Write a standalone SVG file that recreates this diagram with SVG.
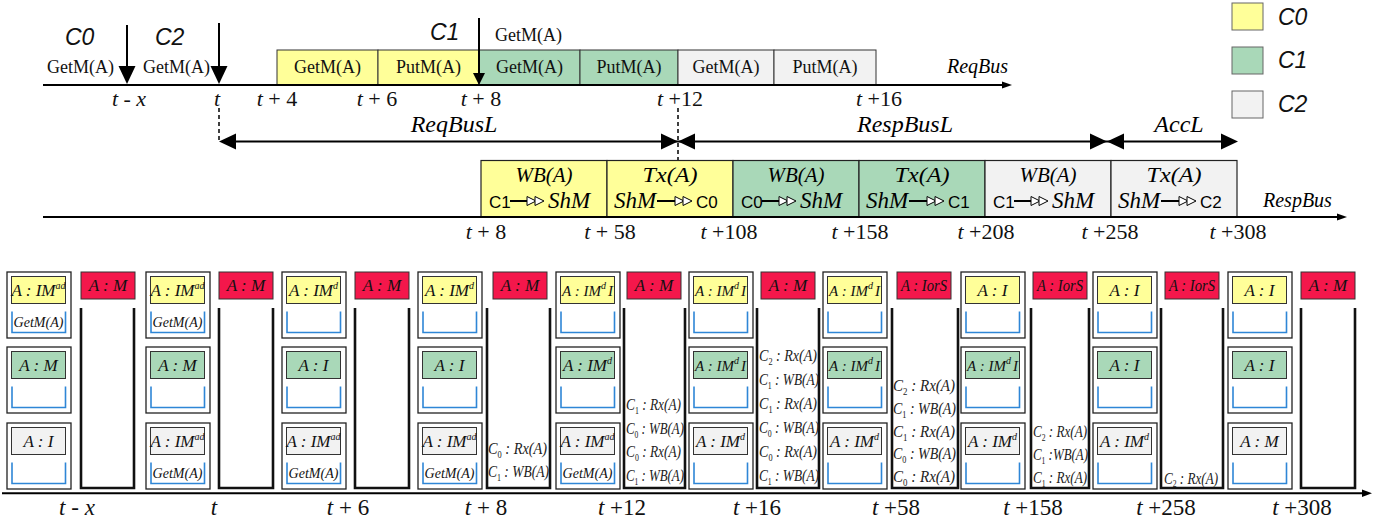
<svg xmlns="http://www.w3.org/2000/svg" width="1387" height="523" viewBox="0 0 1387 523">
<style>
.ser{font-family:"Liberation Serif","Times New Roman",serif}
.it{font-style:italic}
.sans{font-family:"Liberation Sans",Arial,sans-serif}
.y{fill:#FFFF99}.g{fill:#A9D8B8}.gr{fill:#F2F2F2}.r{fill:#F4174B}
.bx{stroke:#333;stroke-width:1}
.ob{fill:#fff;stroke:#222;stroke-width:1.3}
.q{fill:none;stroke:#2E86D6;stroke-width:1.6}
.mem{fill:none;stroke:#111;stroke-width:2.6}
.st{font-family:"Liberation Serif",serif;font-style:italic;font-size:17px;text-anchor:middle;fill:#111}
.sd{font-family:"Liberation Serif",serif;font-style:italic;font-size:15px;text-anchor:middle;fill:#111}
.sup{font-size:10px}
.qt{font-family:"Liberation Serif",serif;font-style:italic;font-size:14px;text-anchor:middle;fill:#111}
.mt{font-family:"Liberation Serif",serif;font-style:italic;font-size:17px;text-anchor:middle;fill:#111}
.lg{font-family:"Liberation Serif",serif;font-style:italic;font-size:17px;fill:#222}
.sb{font-style:normal;font-size:10px}
.tl{font-family:"Liberation Serif",serif;font-size:22px;text-anchor:middle;fill:#111}
.bl{font-family:"Liberation Serif",serif;font-size:23px;text-anchor:middle;fill:#111}
.gm{font-family:"Liberation Serif",serif;font-size:18px;fill:#111}
.cl{font-family:"Liberation Sans",Arial,sans-serif;font-style:italic;font-size:23px;fill:#111}
.ln{stroke:#000;stroke-width:2;fill:none}
.dash{stroke:#000;stroke-width:1.5;stroke-dasharray:4 3;fill:none}
.hd{fill:#000}
.tri{fill:#fff;stroke:#000;stroke-width:1}
.cx{font-family:"Liberation Sans",Arial,sans-serif;font-size:17px;fill:#000}
.shm{font-family:"Liberation Serif",serif;font-style:italic;font-size:23px;fill:#000}
.l1{font-family:"Liberation Serif",serif;font-style:italic;font-size:20px;text-anchor:middle;fill:#000}
.lab{font-family:"Liberation Serif",serif;font-style:italic;font-size:24px;text-anchor:middle;fill:#000}
</style>

<!-- Legend -->
<g id="legend">
<rect class="y" x="1232" y="3" width="31" height="27" stroke="#666"/>
<text class="cl" x="1278" y="25">C0</text>
<rect class="g" x="1232" y="47" width="31" height="27" stroke="#666"/>
<text class="cl" x="1278" y="68">C1</text>
<rect class="gr" x="1232" y="91" width="31" height="27" stroke="#666"/>
<text class="cl" x="1278" y="112">C2</text>
</g>

<!-- ReqBus -->
<g id="reqbus">
<rect class="y bx" x="277" y="50" width="101" height="35"/>
<rect class="y bx" x="378" y="50" width="101" height="35"/>
<rect class="g bx" x="479" y="50" width="101" height="35"/>
<rect class="g bx" x="580" y="50" width="98" height="35"/>
<rect class="gr bx" x="678" y="50" width="96" height="35"/>
<rect class="gr bx" x="774" y="50" width="102" height="35"/>
<text class="gm" x="327.5" y="73" text-anchor="middle">GetM(A)</text>
<text class="gm" x="428.5" y="73" text-anchor="middle">PutM(A)</text>
<text class="gm" x="529.5" y="73" text-anchor="middle">GetM(A)</text>
<text class="gm" x="629" y="73" text-anchor="middle">PutM(A)</text>
<text class="gm" x="726" y="73" text-anchor="middle">GetM(A)</text>
<text class="gm" x="825" y="73" text-anchor="middle">PutM(A)</text>
<text class="gm" x="47" y="73">GetM(A)</text>
<text class="gm" x="143" y="73">GetM(A)</text>
<text class="gm" x="495" y="41">GetM(A)</text>
<text class="cl" x="65" y="45">C0</text>
<text class="cl" x="155" y="45">C2</text>
<text class="cl" x="430" y="40">C1</text>
<text class="ser it" x="947" y="73" font-size="20">ReqBus</text>
<text class="tl" x="129" y="106" font-size="24"><tspan font-style="italic">t</tspan> - <tspan font-style="italic">x</tspan></text>
<text class="tl" x="217" y="106" font-size="24" font-style="italic">t</text>
<text class="tl" x="277" y="106"><tspan font-style="italic">t</tspan> + 4</text>
<text class="tl" x="377" y="106"><tspan font-style="italic">t</tspan> + 6</text>
<text class="tl" x="481" y="106"><tspan font-style="italic">t</tspan> + 8</text>
<text class="tl" x="680" y="106"><tspan font-style="italic">t</tspan> +12</text>
<text class="tl" x="879" y="106"><tspan font-style="italic">t</tspan> +16</text>
</g>

<!-- RespBus -->
<g id="respbus">
<rect class="y" x="481" y="160.5" width="126" height="56.5" stroke="#222" stroke-width="1.2"/>
<rect class="y" x="607" y="160.5" width="126" height="56.5" stroke="#222" stroke-width="1.2"/>
<rect class="g" x="733" y="160.5" width="126" height="56.5" stroke="#222" stroke-width="1.2"/>
<rect class="g" x="859" y="160.5" width="126" height="56.5" stroke="#222" stroke-width="1.2"/>
<rect class="gr" x="985" y="160.5" width="126" height="56.5" stroke="#222" stroke-width="1.2"/>
<rect class="gr" x="1111" y="160.5" width="126" height="56.5" stroke="#222" stroke-width="1.2"/>
<text class="l1" x="544" y="182" textLength="57" lengthAdjust="spacingAndGlyphs">WB(A)</text>
<text class="l1" x="670" y="182" textLength="55" lengthAdjust="spacingAndGlyphs">Tx(A)</text>
<text class="l1" x="796" y="182" textLength="57" lengthAdjust="spacingAndGlyphs">WB(A)</text>
<text class="l1" x="922" y="182" textLength="55" lengthAdjust="spacingAndGlyphs">Tx(A)</text>
<text class="l1" x="1048" y="182" textLength="57" lengthAdjust="spacingAndGlyphs">WB(A)</text>
<text class="l1" x="1174" y="182" textLength="55" lengthAdjust="spacingAndGlyphs">Tx(A)</text>
<!-- box1 C1 -> ShM -->
<text class="cx" x="489" y="208">C1</text>
<path class="ln" stroke-width="1.2" d="M510 201H527"/>
<polygon class="tri" points="527,196.5 536,201 527,205.5"/><polygon class="tri" points="535,196.5 544,201 535,205.5"/>
<text class="shm" x="548" y="208">ShM</text>
<!-- box2 ShM -> C0 -->
<text class="shm" x="614" y="208">ShM</text>
<path class="ln" stroke-width="1.2" d="M657 201H675"/>
<polygon class="tri" points="675,196.5 684,201 675,205.5"/><polygon class="tri" points="683,196.5 692,201 683,205.5"/>
<text class="cx" x="696" y="208">C0</text>
<!-- box3 C0 -> ShM -->
<text class="cx" x="741" y="208">C0</text>
<path class="ln" stroke-width="1.2" d="M762 201H779"/>
<polygon class="tri" points="779,196.5 788,201 779,205.5"/><polygon class="tri" points="787,196.5 796,201 787,205.5"/>
<text class="shm" x="800" y="208">ShM</text>
<!-- box4 ShM -> C1 -->
<text class="shm" x="866" y="208">ShM</text>
<path class="ln" stroke-width="1.2" d="M909 201H927"/>
<polygon class="tri" points="927,196.5 936,201 927,205.5"/><polygon class="tri" points="935,196.5 944,201 935,205.5"/>
<text class="cx" x="948" y="208">C1</text>
<!-- box5 C1 -> ShM -->
<text class="cx" x="993" y="208">C1</text>
<path class="ln" stroke-width="1.2" d="M1014 201H1031"/>
<polygon class="tri" points="1031,196.5 1040,201 1031,205.5"/><polygon class="tri" points="1039,196.5 1048,201 1039,205.5"/>
<text class="shm" x="1052" y="208">ShM</text>
<!-- box6 ShM -> C2 -->
<text class="shm" x="1118" y="208">ShM</text>
<path class="ln" stroke-width="1.2" d="M1161 201H1179"/>
<polygon class="tri" points="1179,196.5 1188,201 1179,205.5"/><polygon class="tri" points="1187,196.5 1196,201 1187,205.5"/>
<text class="cx" x="1200" y="208">C2</text>
<text class="ser it" x="1263" y="207" font-size="20">RespBus</text>
<text class="tl" x="486" y="239"><tspan font-style="italic">t</tspan> + 8</text>
<text class="tl" x="610" y="239"><tspan font-style="italic">t</tspan> + 58</text>
<text class="tl" x="729" y="239"><tspan font-style="italic">t</tspan> +108</text>
<text class="tl" x="860" y="239"><tspan font-style="italic">t</tspan> +158</text>
<text class="tl" x="986" y="239"><tspan font-style="italic">t</tspan> +208</text>
<text class="tl" x="1110" y="239"><tspan font-style="italic">t</tspan> +258</text>
<text class="tl" x="1238" y="239"><tspan font-style="italic">t</tspan> +308</text>
</g>

<!-- Connectors / axes / latency arrows -->
<g id="connectors">
<path class="ln" d="M43 85H1004"/>
<polygon class="hd" points="1002,81.5 1012,85 1002,88.5"/>
<path class="ln" d="M43 217H1339"/>
<polygon class="hd" points="1337,213.5 1347,217 1337,220.5"/>
<path class="ln" d="M2 493.3H1364"/>
<polygon class="hd" points="1362,489.5 1372,493.3 1362,497"/>
<path class="ln" d="M127 25V68"/>
<polygon class="hd" points="118.5,66 135.5,66 127,84"/>
<path class="ln" d="M219 23V68"/>
<polygon class="hd" points="210.5,66 227.5,66 219,84"/>
<path class="ln" d="M479 18V75"/>
<polygon class="hd" points="473,73 485,73 479,85"/>
<path class="dash" d="M219 108V141"/>
<path class="dash" d="M678 108V160"/>
<path class="ln" d="M230 141.5H1230"/>
<polygon class="hd" points="219,141.5 236,133.5 236,149.5"/>
<polygon class="hd" points="678,141.5 661,133.5 661,149.5"/>
<polygon class="hd" points="678,141.5 695,133.5 695,149.5"/>
<polygon class="hd" points="1107,141.5 1090,133.5 1090,149.5"/>
<polygon class="hd" points="1107,141.5 1124,133.5 1124,149.5"/>
<polygon class="hd" points="1238,141.5 1221,133.5 1221,149.5"/>
<text class="lab" x="454" y="132">ReqBusL</text>
<text class="lab" x="905" y="132">RespBusL</text>
<text class="lab" x="1179" y="132">AccL</text>
</g>

<!-- Column 1: t - x -->
<g id="col-t-x">
<rect class="ob" x="7" y="272" width="64" height="66"/>
<rect class="y bx" x="11.5" y="276.5" width="54" height="27"/>
<text class="st" x="38.5" y="295.5">A : IM<tspan class="sup" dy="-7">ad</tspan></text>
<path class="q" d="M12 311.5V332.5H65.5V311.5"/>
<text class="qt" x="38.5" y="327">GetM(A)</text>
<rect class="ob" x="7" y="347" width="64" height="66"/>
<rect class="g bx" x="11.5" y="351.5" width="54" height="27"/>
<text class="st" x="38.5" y="370.5">A : M</text>
<path class="q" d="M12 386.5V407.5H65.5V386.5"/>
<rect class="ob" x="7" y="423" width="64" height="66"/>
<rect class="gr bx" x="11.5" y="427.5" width="54" height="27"/>
<text class="st" x="38.5" y="446.5">A : I</text>
<path class="q" d="M12 462.5V483.5H65.5V462.5"/>
<rect class="r bx" x="81" y="272" width="54" height="27"/>
<text class="mt" x="108" y="291">A : M</text>
<path class="mem" d="M81 308V488H134V308"/>
<text class="bl" x="77" y="515" font-size="25"><tspan font-style="italic">t</tspan> - <tspan font-style="italic">x</tspan></text>
</g>

<!-- Column 2: t -->
<g id="col-t">
<rect class="ob" x="146" y="272" width="64" height="66"/>
<rect class="y bx" x="150.5" y="276.5" width="54" height="27"/>
<text class="st" x="177.5" y="295.5">A : IM<tspan class="sup" dy="-7">ad</tspan></text>
<path class="q" d="M151 311.5V332.5H204.5V311.5"/>
<text class="qt" x="177.5" y="327">GetM(A)</text>
<rect class="ob" x="146" y="347" width="64" height="66"/>
<rect class="g bx" x="150.5" y="351.5" width="54" height="27"/>
<text class="st" x="177.5" y="370.5">A : M</text>
<path class="q" d="M151 386.5V407.5H204.5V386.5"/>
<rect class="ob" x="146" y="423" width="64" height="66"/>
<rect class="gr bx" x="150.5" y="427.5" width="54" height="27"/>
<text class="st" x="177.5" y="446.5">A : IM<tspan class="sup" dy="-7">ad</tspan></text>
<path class="q" d="M151 462.5V483.5H204.5V462.5"/>
<text class="qt" x="177.5" y="478">GetM(A)</text>
<rect class="r bx" x="219" y="272" width="54" height="27"/>
<text class="mt" x="246" y="291">A : M</text>
<path class="mem" d="M219 308V488H273V308"/>
<text class="bl" x="214" y="515" font-size="25" font-style="italic">t</text>
</g>

<!-- Column 3: t + 6 -->
<g id="col-t6">
<rect class="ob" x="282" y="272" width="64" height="66"/>
<rect class="y bx" x="286.5" y="276.5" width="54" height="27"/>
<text class="st" x="313.5" y="295.5">A : IM<tspan class="sup" dy="-7">d</tspan></text>
<path class="q" d="M287 311.5V332.5H340.5V311.5"/>
<rect class="ob" x="282" y="347" width="64" height="66"/>
<rect class="g bx" x="286.5" y="351.5" width="54" height="27"/>
<text class="st" x="313.5" y="370.5">A : I</text>
<path class="q" d="M287 386.5V407.5H340.5V386.5"/>
<rect class="ob" x="282" y="423" width="64" height="66"/>
<rect class="gr bx" x="286.5" y="427.5" width="54" height="27"/>
<text class="st" x="313.5" y="446.5">A : IM<tspan class="sup" dy="-7">ad</tspan></text>
<path class="q" d="M287 462.5V483.5H340.5V462.5"/>
<text class="qt" x="313.5" y="478">GetM(A)</text>
<rect class="r bx" x="355" y="272" width="54" height="27"/>
<text class="mt" x="382" y="291">A : M</text>
<path class="mem" d="M355 308V488H409V308"/>
<text class="bl" x="348" y="515"><tspan font-style="italic">t</tspan> + 6</text>
</g>

<!-- Column 4: t + 8 -->
<g id="col-t8">
<rect class="ob" x="418" y="272" width="64" height="66"/>
<rect class="y bx" x="422.5" y="276.5" width="54" height="27"/>
<text class="st" x="449.5" y="295.5">A : IM<tspan class="sup" dy="-7">d</tspan></text>
<path class="q" d="M423 311.5V332.5H476.5V311.5"/>
<rect class="ob" x="418" y="347" width="64" height="66"/>
<rect class="g bx" x="422.5" y="351.5" width="54" height="27"/>
<text class="st" x="449.5" y="370.5">A : I</text>
<path class="q" d="M423 386.5V407.5H476.5V386.5"/>
<rect class="ob" x="418" y="423" width="64" height="66"/>
<rect class="gr bx" x="422.5" y="427.5" width="54" height="27"/>
<text class="st" x="449.5" y="446.5">A : IM<tspan class="sup" dy="-7">ad</tspan></text>
<path class="q" d="M423 462.5V483.5H476.5V462.5"/>
<text class="qt" x="449.5" y="478">GetM(A)</text>
<rect class="r bx" x="493" y="272" width="54" height="27"/>
<text class="mt" x="520" y="291">A : M</text>
<path class="mem" d="M487 308V488H550V308"/>
<text class="lg" x="488" y="454" textLength="59" lengthAdjust="spacingAndGlyphs">C<tspan class="sb" dy="4">0</tspan><tspan dy="-4"> : Rx(A)</tspan></text>
<text class="lg" x="488" y="477" textLength="61" lengthAdjust="spacingAndGlyphs">C<tspan class="sb" dy="4">1</tspan><tspan dy="-4"> : WB(A)</tspan></text>
<text class="bl" x="486" y="515"><tspan font-style="italic">t</tspan> + 8</text>
</g>

<!-- Column 5: t + 12 -->
<g id="col-t12">
<rect class="ob" x="556" y="272" width="64" height="66"/>
<rect class="y bx" x="560.5" y="276.5" width="54" height="27"/>
<text class="sd" x="587.5" y="295.5">A : IM<tspan class="sup" dy="-7">d</tspan><tspan dx="2" dy="7">I</tspan></text>
<path class="q" d="M561 311.5V332.5H614.5V311.5"/>
<rect class="ob" x="556" y="347" width="64" height="66"/>
<rect class="g bx" x="560.5" y="351.5" width="54" height="27"/>
<text class="st" x="587.5" y="370.5">A : IM<tspan class="sup" dy="-7">d</tspan></text>
<path class="q" d="M561 386.5V407.5H614.5V386.5"/>
<rect class="ob" x="556" y="423" width="64" height="66"/>
<rect class="gr bx" x="560.5" y="427.5" width="54" height="27"/>
<text class="st" x="587.5" y="446.5">A : IM<tspan class="sup" dy="-7">ad</tspan></text>
<path class="q" d="M561 462.5V483.5H614.5V462.5"/>
<text class="qt" x="587.5" y="478">GetM(A)</text>
<rect class="r bx" x="627" y="272" width="54" height="27"/>
<text class="mt" x="654" y="291">A : M</text>
<path class="mem" d="M624 308V488H685V308"/>
<text class="lg" x="626" y="409.5" textLength="55" lengthAdjust="spacingAndGlyphs">C<tspan class="sb" dy="4">1</tspan><tspan dy="-4"> : Rx(A)</tspan></text>
<text class="lg" x="626" y="434" textLength="58" lengthAdjust="spacingAndGlyphs">C<tspan class="sb" dy="4">0</tspan><tspan dy="-4"> : WB(A)</tspan></text>
<text class="lg" x="626" y="457" textLength="55" lengthAdjust="spacingAndGlyphs">C<tspan class="sb" dy="4">0</tspan><tspan dy="-4"> : Rx(A)</tspan></text>
<text class="lg" x="626" y="480.5" textLength="58" lengthAdjust="spacingAndGlyphs">C<tspan class="sb" dy="4">1</tspan><tspan dy="-4"> : WB(A)</tspan></text>
<text class="bl" x="622" y="515"><tspan font-style="italic">t</tspan> +12</text>
</g>

<!-- Column 6: t + 16 -->
<g id="col-t16">
<rect class="ob" x="689" y="272" width="64" height="66"/>
<rect class="y bx" x="693.5" y="276.5" width="54" height="27"/>
<text class="sd" x="720.5" y="295.5">A : IM<tspan class="sup" dy="-7">d</tspan><tspan dx="2" dy="7">I</tspan></text>
<path class="q" d="M694 311.5V332.5H747.5V311.5"/>
<rect class="ob" x="689" y="347" width="64" height="66"/>
<rect class="g bx" x="693.5" y="351.5" width="54" height="27"/>
<text class="sd" x="720.5" y="370.5">A : IM<tspan class="sup" dy="-7">d</tspan><tspan dx="2" dy="7">I</tspan></text>
<path class="q" d="M694 386.5V407.5H747.5V386.5"/>
<rect class="ob" x="689" y="423" width="64" height="66"/>
<rect class="gr bx" x="693.5" y="427.5" width="54" height="27"/>
<text class="st" x="720.5" y="446.5">A : IM<tspan class="sup" dy="-7">d</tspan></text>
<path class="q" d="M694 462.5V483.5H747.5V462.5"/>
<rect class="r bx" x="761" y="272" width="54" height="27"/>
<text class="mt" x="788" y="291">A : M</text>
<path class="mem" d="M757 308V488H819V308"/>
<text class="lg" x="759" y="360.5" textLength="58" lengthAdjust="spacingAndGlyphs">C<tspan class="sb" dy="4">2</tspan><tspan dy="-4"> : Rx(A)</tspan></text>
<text class="lg" x="759" y="384.5" textLength="60" lengthAdjust="spacingAndGlyphs">C<tspan class="sb" dy="4">1</tspan><tspan dy="-4"> : WB(A)</tspan></text>
<text class="lg" x="759" y="409" textLength="58" lengthAdjust="spacingAndGlyphs">C<tspan class="sb" dy="4">1</tspan><tspan dy="-4"> : Rx(A)</tspan></text>
<text class="lg" x="759" y="433" textLength="60" lengthAdjust="spacingAndGlyphs">C<tspan class="sb" dy="4">0</tspan><tspan dy="-4"> : WB(A)</tspan></text>
<text class="lg" x="759" y="457" textLength="58" lengthAdjust="spacingAndGlyphs">C<tspan class="sb" dy="4">0</tspan><tspan dy="-4"> : Rx(A)</tspan></text>
<text class="lg" x="759" y="480.5" textLength="60" lengthAdjust="spacingAndGlyphs">C<tspan class="sb" dy="4">1</tspan><tspan dy="-4"> : WB(A)</tspan></text>
<text class="bl" x="757" y="515"><tspan font-style="italic">t</tspan> +16</text>
</g>

<!-- Column 7: t + 58 -->
<g id="col-t58">
<rect class="ob" x="823" y="272" width="64" height="66"/>
<rect class="y bx" x="827.5" y="276.5" width="54" height="27"/>
<text class="sd" x="854.5" y="295.5">A : IM<tspan class="sup" dy="-7">d</tspan><tspan dx="2" dy="7">I</tspan></text>
<path class="q" d="M828 311.5V332.5H881.5V311.5"/>
<rect class="ob" x="823" y="347" width="64" height="66"/>
<rect class="g bx" x="827.5" y="351.5" width="54" height="27"/>
<text class="sd" x="854.5" y="370.5">A : IM<tspan class="sup" dy="-7">d</tspan><tspan dx="2" dy="7">I</tspan></text>
<path class="q" d="M828 386.5V407.5H881.5V386.5"/>
<rect class="ob" x="823" y="423" width="64" height="66"/>
<rect class="gr bx" x="827.5" y="427.5" width="54" height="27"/>
<text class="st" x="854.5" y="446.5">A : IM<tspan class="sup" dy="-7">d</tspan></text>
<path class="q" d="M828 462.5V483.5H881.5V462.5"/>
<rect class="r bx" x="897" y="272" width="54" height="27"/>
<text class="mt" x="924" y="291" textLength="46" lengthAdjust="spacingAndGlyphs">A : IorS</text>
<path class="mem" d="M892 308V488H958V308"/>
<text class="lg" x="893" y="391" textLength="62" lengthAdjust="spacingAndGlyphs">C<tspan class="sb" dy="4">2</tspan><tspan dy="-4"> : Rx(A)</tspan></text>
<text class="lg" x="893" y="414" textLength="63" lengthAdjust="spacingAndGlyphs">C<tspan class="sb" dy="4">1</tspan><tspan dy="-4"> : WB(A)</tspan></text>
<text class="lg" x="893" y="436.5" textLength="62" lengthAdjust="spacingAndGlyphs">C<tspan class="sb" dy="4">1</tspan><tspan dy="-4"> : Rx(A)</tspan></text>
<text class="lg" x="893" y="459" textLength="63" lengthAdjust="spacingAndGlyphs">C<tspan class="sb" dy="4">0</tspan><tspan dy="-4"> : WB(A)</tspan></text>
<text class="lg" x="893" y="482" textLength="62" lengthAdjust="spacingAndGlyphs">C<tspan class="sb" dy="4">0</tspan><tspan dy="-4"> : Rx(A)</tspan></text>
<text class="bl" x="896" y="515"><tspan font-style="italic">t</tspan> +58</text>
</g>

<!-- Column 8: t + 158 -->
<g id="col-t158">
<rect class="ob" x="961" y="272" width="64" height="66"/>
<rect class="y bx" x="965.5" y="276.5" width="54" height="27"/>
<text class="st" x="992.5" y="295.5">A : I</text>
<path class="q" d="M966 311.5V332.5H1019.5V311.5"/>
<rect class="ob" x="961" y="347" width="64" height="66"/>
<rect class="g bx" x="965.5" y="351.5" width="54" height="27"/>
<text class="sd" x="992.5" y="370.5">A : IM<tspan class="sup" dy="-7">d</tspan><tspan dx="2" dy="7">I</tspan></text>
<path class="q" d="M966 386.5V407.5H1019.5V386.5"/>
<rect class="ob" x="961" y="423" width="64" height="66"/>
<rect class="gr bx" x="965.5" y="427.5" width="54" height="27"/>
<text class="st" x="992.5" y="446.5">A : IM<tspan class="sup" dy="-7">d</tspan></text>
<path class="q" d="M966 462.5V483.5H1019.5V462.5"/>
<rect class="r bx" x="1033" y="272" width="54" height="27"/>
<text class="mt" x="1060" y="291" textLength="46" lengthAdjust="spacingAndGlyphs">A : IorS</text>
<path class="mem" d="M1031 308V488H1089V308"/>
<text class="lg" x="1033" y="437" font-size="15" textLength="54" lengthAdjust="spacingAndGlyphs">C<tspan class="sb" dy="4">2</tspan><tspan dy="-4"> : Rx(A)</tspan></text>
<text class="lg" x="1033" y="459.5" font-size="15" textLength="55" lengthAdjust="spacingAndGlyphs">C<tspan class="sb" dy="4">1</tspan><tspan dy="-4"> :WB(A)</tspan></text>
<text class="lg" x="1033" y="483" font-size="15" textLength="54" lengthAdjust="spacingAndGlyphs">C<tspan class="sb" dy="4">1</tspan><tspan dy="-4"> : Rx(A)</tspan></text>
<text class="bl" x="1033" y="515"><tspan font-style="italic">t</tspan> +158</text>
</g>

<!-- Column 9: t + 258 -->
<g id="col-t258">
<rect class="ob" x="1093" y="272" width="64" height="66"/>
<rect class="y bx" x="1097.5" y="276.5" width="54" height="27"/>
<text class="st" x="1124.5" y="295.5">A : I</text>
<path class="q" d="M1098 311.5V332.5H1151.5V311.5"/>
<rect class="ob" x="1093" y="347" width="64" height="66"/>
<rect class="g bx" x="1097.5" y="351.5" width="54" height="27"/>
<text class="st" x="1124.5" y="370.5">A : I</text>
<path class="q" d="M1098 386.5V407.5H1151.5V386.5"/>
<rect class="ob" x="1093" y="423" width="64" height="66"/>
<rect class="gr bx" x="1097.5" y="427.5" width="54" height="27"/>
<text class="st" x="1124.5" y="446.5">A : IM<tspan class="sup" dy="-7">d</tspan></text>
<path class="q" d="M1098 462.5V483.5H1151.5V462.5"/>
<rect class="r bx" x="1165" y="272" width="54" height="27"/>
<text class="mt" x="1192" y="291" textLength="46" lengthAdjust="spacingAndGlyphs">A : IorS</text>
<path class="mem" d="M1161 308V488H1223V308"/>
<text class="lg" x="1164" y="484" font-size="12" textLength="54" lengthAdjust="spacingAndGlyphs">C<tspan class="sb" font-size="8" dy="3">2</tspan><tspan dy="-3"> : Rx(A)</tspan></text>
<text class="bl" x="1166" y="515"><tspan font-style="italic">t</tspan> +258</text>
</g>

<!-- Column 10: t + 308 -->
<g id="col-t308">
<rect class="ob" x="1228" y="272" width="64" height="66"/>
<rect class="y bx" x="1232.5" y="276.5" width="54" height="27"/>
<text class="st" x="1259.5" y="295.5">A : I</text>
<path class="q" d="M1233 311.5V332.5H1286.5V311.5"/>
<rect class="ob" x="1228" y="347" width="64" height="66"/>
<rect class="g bx" x="1232.5" y="351.5" width="54" height="27"/>
<text class="st" x="1259.5" y="370.5">A : I</text>
<path class="q" d="M1233 386.5V407.5H1286.5V386.5"/>
<rect class="ob" x="1228" y="423" width="64" height="66"/>
<rect class="gr bx" x="1232.5" y="427.5" width="54" height="27"/>
<text class="st" x="1259.5" y="446.5">A : M</text>
<path class="q" d="M1233 462.5V483.5H1286.5V462.5"/>
<rect class="r bx" x="1301" y="272" width="54" height="27"/>
<text class="mt" x="1328" y="291">A : M</text>
<path class="mem" d="M1301 308V488H1355V308"/>
<text class="bl" x="1302" y="515"><tspan font-style="italic">t</tspan> +308</text>
</g>
</svg>
